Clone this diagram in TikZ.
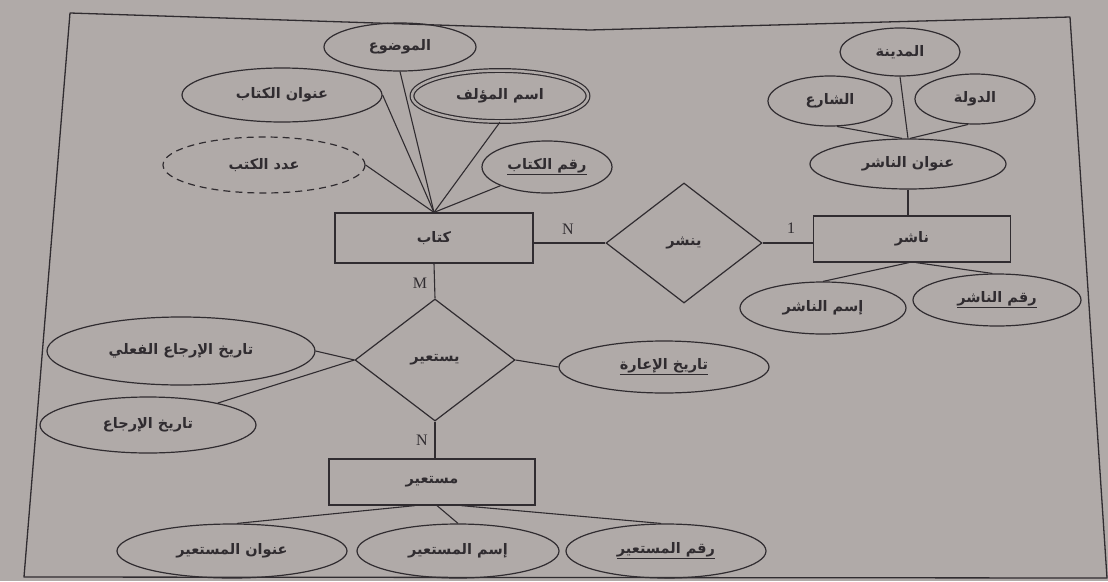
\documentclass[tikz,border=0pt]{standalone}
\usepackage{fontspec}
\setmainfont{Liberation Serif}
\newfontfamily\arabicfont[Script=Arabic]{DejaVu Sans Bold}
\TeXXeTstate=1
\usetikzlibrary{shapes.geometric}
\definecolor{paper}{RGB}{176,170,168}
\definecolor{ink}{RGB}{48,44,48}
\tikzset{
  attr/.style={ellipse, draw=ink, line width=1.2pt, inner sep=0pt, text=ink,
    font=\fontsize{14.5}{16}\selectfont\arabicfont},
  entity/.style={rectangle, draw=ink, line width=1.2pt, inner sep=0pt, text=ink,
    font=\fontsize{14.5}{16}\selectfont\arabicfont},
  rel/.style={diamond, draw=ink, line width=1.2pt, inner sep=0pt, text=ink,
    font=\fontsize{14.5}{16}\selectfont\arabicfont},
  lnk/.style={draw=ink, line width=1.1pt},
  card/.style={text=ink, inner sep=0pt, font=\fontsize{16}{16}\selectfont},
  frame/.style={draw=ink, line width=1.3pt, line join=round}
}
\begin{document}
\begin{tikzpicture}[x=1pt,y=-1pt]
\useasboundingbox (0,0) rectangle (1108,581);
\fill[paper] (0,0) rectangle (1108,581);
\draw[frame] (70,13) -- (590,30) -- (1070,17) -- (1107,578) -- (24,577) -- cycle;

% book entity and attributes
\node[entity, minimum width=198, minimum height=50] (kitab) at (434,238) {\beginR كتاب\endR};
\node[attr, minimum width=152, minimum height=48] (subj) at (400,47) {\beginR الموضوع\endR};
\node[attr, minimum width=200, minimum height=54] (title) at (282,95) {\beginR عنوان الكتاب\endR};
\node[attr, double=paper, double distance=2.5pt, minimum width=176, minimum height=51] (author) at (500,96) {\beginR اسم المؤلف\endR};
\node[attr, dashed, dash pattern=on 7pt off 5pt, minimum width=202, minimum height=56] (count) at (264,165) {\beginR عدد الكتب\endR};
\node[attr, minimum width=130, minimum height=52] (bkey) at (547,167) {\underline{\beginR رقم الكتاب\endR}};

\draw[lnk] (subj.south) -- (kitab.north);
\draw[lnk] (title.east) -- (kitab.north);
\draw[lnk] (author.south) -- (kitab.north);
\draw[lnk] (count.east) -- (kitab.north);
\draw[lnk] (bkey) -- (kitab.north);

% publishes relationship
\node[rel, minimum width=156, minimum height=120] (pub) at (684,243) {\beginR ينشر\endR};
\node[entity, minimum width=197, minimum height=46] (nashir) at (912,239) {\beginR ناشر\endR};
\draw[lnk] (pub.west) -- (pub.west -| kitab.east);
\draw[lnk] (pub.east) -- (pub.east -| nashir.west);
\node[card] (cn1) at (568,229) {N};
\node[card] (c11) at (791,228) {1};

% publisher attributes
\node[attr, minimum width=120, minimum height=48] (city) at (900,52) {\beginR المدينة\endR};
\node[attr, minimum width=124, minimum height=50] (street) at (830,101) {\beginR الشارع\endR};
\node[attr, minimum width=120, minimum height=50] (country) at (975,99) {\beginR الدولة\endR};
\node[attr, minimum width=196, minimum height=50] (paddr) at (908,164) {\beginR عنوان الناشر\endR};
\node[attr, minimum width=166, minimum height=52] (pname) at (823,308) {\beginR إسم الناشر\endR};
\node[attr, minimum width=168, minimum height=52] (pkey) at (997,300) {\underline{\beginR رقم الناشر\endR}};

\draw[lnk] (city.south) -- (paddr.north);
\draw[lnk] (street.-75) -- ([xshift=-6]paddr.north);
\draw[lnk] (country.-105) -- ([xshift=2]paddr.north);
\draw[lnk] (paddr.south) -- (paddr.south |- nashir.north);
\draw[lnk] ([xshift=-3]nashir.south) -- (pname.north);
\draw[lnk] ([xshift=4]nashir.south) -- (pkey.100);

% borrows relationship
\node[rel, minimum width=160, minimum height=122] (borrow) at (435,360) {\beginR يستعير\endR};
\node[card] (cm) at (420,283) {M};
\node[card] (cn2) at (422,440) {N};
\draw[lnk] (kitab.south) -- (borrow.north);
\node[attr, minimum width=268, minimum height=68] (actret) at (181,351) {\beginR تاريخ الإرجاع الفعلي\endR};
\node[attr, minimum width=216, minimum height=56] (ret) at (148,425) {\beginR تاريخ الإرجاع\endR};
\node[attr, minimum width=210, minimum height=52] (loan) at (664,367) {\underline{\beginR تاريخ الإعارة\endR}};
\draw[lnk] (actret.east) -- (borrow.west);
\draw[lnk] (ret) -- (borrow.west);
\draw[lnk] (borrow.east) -- (loan.west);

% borrower entity
\node[entity, minimum width=206, minimum height=46] (borrower) at (432,482) {\beginR مستعير\endR};
\draw[lnk] (borrow.south) -- (borrow.south |- borrower.north);
\node[attr, minimum width=230, minimum height=54] (baddr) at (232,551) {\beginR عنوان المستعير\endR};
\node[attr, minimum width=202, minimum height=54] (bname) at (458,551) {\beginR إسم المستعير\endR};
\node[attr, minimum width=200, minimum height=54] (bkey2) at (666,551) {\underline{\beginR رقم المستعير\endR}};
\draw[lnk] ([xshift=-17]borrower.south) -- (baddr.80);
\draw[lnk] ([xshift=5]borrower.south) -- (bname.north);
\draw[lnk] ([xshift=29]borrower.south) -- (bkey2.100);
\end{tikzpicture}
\end{document}
